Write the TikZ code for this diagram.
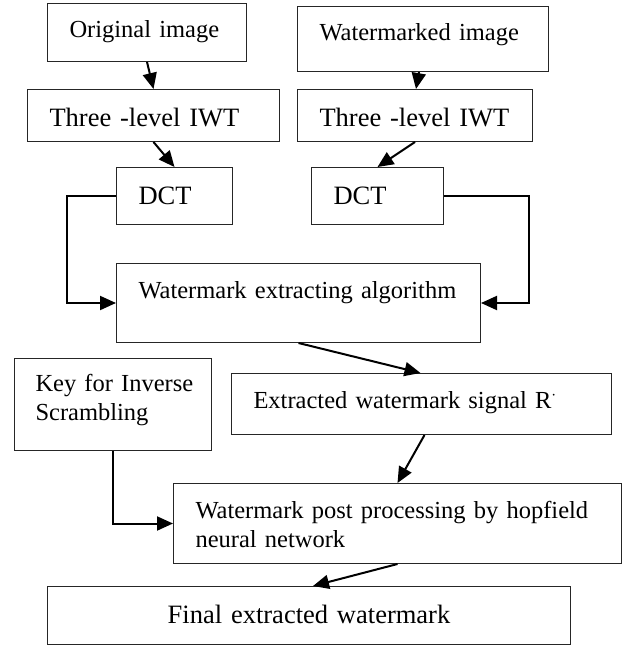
\documentclass[tikz,border=0pt]{standalone}
\usepackage{fontspec}
\setmainfont{Liberation Serif}
\usetikzlibrary{arrows.meta}

\begin{document}
\begin{tikzpicture}[x=1pt, y=-1pt,
	blk/.style={draw=black!85, line width=1pt, fill=white, anchor=north west, align=left,
		inner xsep=22pt, inner ysep=5pt, font=\fontsize{24.5}{28.5}\selectfont},
	big/.style={font=\fontsize{26.5}{31}\selectfont},
	flow/.style={line width=2pt, -{Triangle[length=16pt,width=14pt]}}]
	\useasboundingbox[fill=white] (0,0) rectangle (624,647);
	% extraction side, original image
	\node[blk, text width=155pt, text height=29pt, text depth=19pt] (orig) at (47,3) {Original image};
	\node[blk, big, text width=208pt, text height=32pt, text depth=10pt] (iwtl) at (27,89) {Three -level IWT};
	\node[blk, big, text width=72pt, text height=32pt, text depth=15pt] (dctl) at (116,167) {DCT};
	% watermarked image
	\node[blk, text width=207pt, text height=29pt, text depth=26pt] (wimg) at (297,6) {Watermarked image};
	\node[blk, big, text width=191pt, text height=32pt, text depth=10pt] (iwtr) at (297,89) {Three -level IWT};
	\node[blk, big, text width=88pt, text height=32pt, text depth=15pt] (dctr) at (311,167) {DCT};
	% extracting and post processing
	\node[blk, text width=320pt, text height=30pt, text depth=39pt] (extr) at (116,263) {Watermark extracting algorithm};
	\node[blk, inner xsep=21pt, text width=155pt, text height=28pt, text depth=54pt] (key) at (14,358) {\mbox{Key for Inverse}\\\mbox{Scrambling}};
	\node[blk, text width=336pt, text height=30pt, text depth=21pt] (sig) at (231,373) {Extracted watermark signal R$^{\cdot}$};
	\node[blk, text width=404pt, text height=30pt, text depth=40pt] (post) at (173,483) {\mbox{Watermark post processing by hopfield}\\neural network};
	\node[blk, big, align=center, text width=479pt, text height=32pt, text depth=16pt] (final) at (47,586) {Final extracted watermark};

	\draw[flow] (orig.south) -- (iwtl.north);
	\draw[flow] (iwtl.south) -- (dctl.north);
	\draw[flow] ([xshift=-4pt]wimg.south) -- ([xshift=1pt]iwtr.north);
	\draw[flow] (iwtr.south) -- (dctr.north);
	\draw[flow] (dctl.west) -- ++(-49,0) |- (extr.west);
	\draw[flow] (dctr.east) -- ++(85,0) |- (extr.east);
	\draw[flow] (extr.south) -- ([xshift=-1pt]sig.north);
	\draw[flow] ([xshift=3pt]sig.south) -- (post.north);
	\draw[flow] (key.south) |- (post.west);
	\draw[flow] (post.south) -- ([xshift=4pt]final.north);
\end{tikzpicture}
\end{document}
